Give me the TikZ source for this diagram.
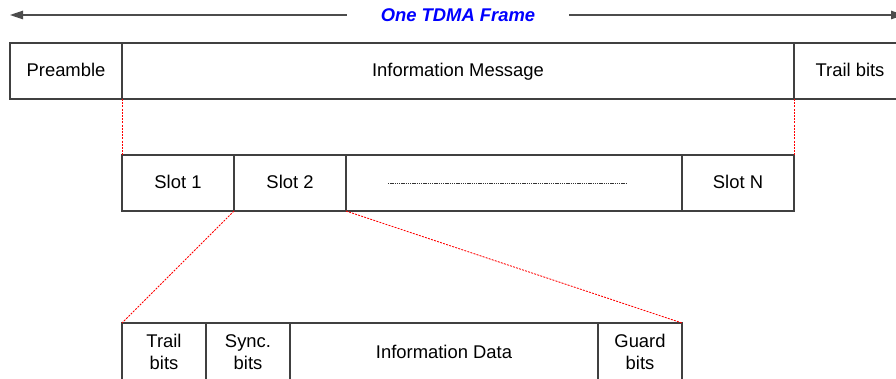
\documentclass[tikz,border=0pt]{standalone}
\usepackage{fontspec}
\setmainfont{Liberation Sans}
\usetikzlibrary{arrows.meta}

\tikzset{
  cell/.style={draw=black!75, line width=1.2pt, inner sep=0pt, outer sep=0pt,
    minimum height=56pt, align=center,
    font=\fontsize{18.4}{22}\selectfont},
  oneline/.style={cell, text height=13.2pt, text depth=1.2pt},
  zoomline/.style={draw=red, line width=0.8pt, dash pattern=on 2pt off 1.2pt},
  span/.style={draw=black!70, line width=1.2pt,
    -{Triangle[length=13pt,width=8.5pt]}},
  title/.style={text=blue, inner xsep=34pt, inner ysep=0pt,
    font=\fontsize{18.4}{22}\selectfont\bfseries\itshape},
  filler/.style={draw=black!80, line width=0.9pt, dash pattern=on 1.4pt off 0.8pt}
}

\begin{document}
\begin{tikzpicture}[x=1pt, y=-1pt]
\clip (0,0) rectangle (896,379);
\useasboundingbox (0,0) rectangle (896,379);

% overall frame span
\node[title] (frame) at (458,15) {One TDMA Frame};
\coordinate (spanL) at (10,15);
\coordinate (spanR) at (904,15);
\draw[span] (frame.west) -- (spanL);
\draw[span] (frame.east) -- (spanR);

% frame structure
\node[oneline, minimum width=112pt] (pre)  at (66,71)  {Preamble};
\node[oneline, minimum width=672pt] (info) at (458,71) {Information Message};
\node[oneline, minimum width=112pt] (tail) at (850,71) {Trail bits};

% time slots
\node[oneline, minimum width=112pt] (s1)  at (178,183) {Slot 1};
\node[oneline, minimum width=112pt] (s2)  at (290,183) {Slot 2};
\node[oneline, minimum width=336pt] (gap) at (514,183) {};
\node[oneline, minimum width=112pt] (sn)  at (738,183) {Slot N};
\coordinate (dotsL) at (388,183);
\coordinate (dotsR) at (627,183);
\draw[filler] (dotsL) -- (dotsR);

% slot contents
\node[cell, minimum width=84pt,  minimum height=58pt] (tb) at (164,352) {Trail\\bits};
\node[cell, minimum width=84pt,  minimum height=58pt] (sb) at (248,352) {Sync.\\bits};
\node[oneline, minimum width=308pt, minimum height=58pt] (id) at (444,352) {Information Data};
\node[cell, minimum width=84pt,  minimum height=58pt] (gb) at (640,352) {Guard\\bits};

% expansion guides
\draw[zoomline] (pre.south east) -- (s1.north west);
\draw[zoomline] (info.south east) -- (sn.north east);
\draw[zoomline] (s2.south west) -- (tb.north west);
\draw[zoomline] (s2.south east) -- (gb.north east);
\end{tikzpicture}
\end{document}
